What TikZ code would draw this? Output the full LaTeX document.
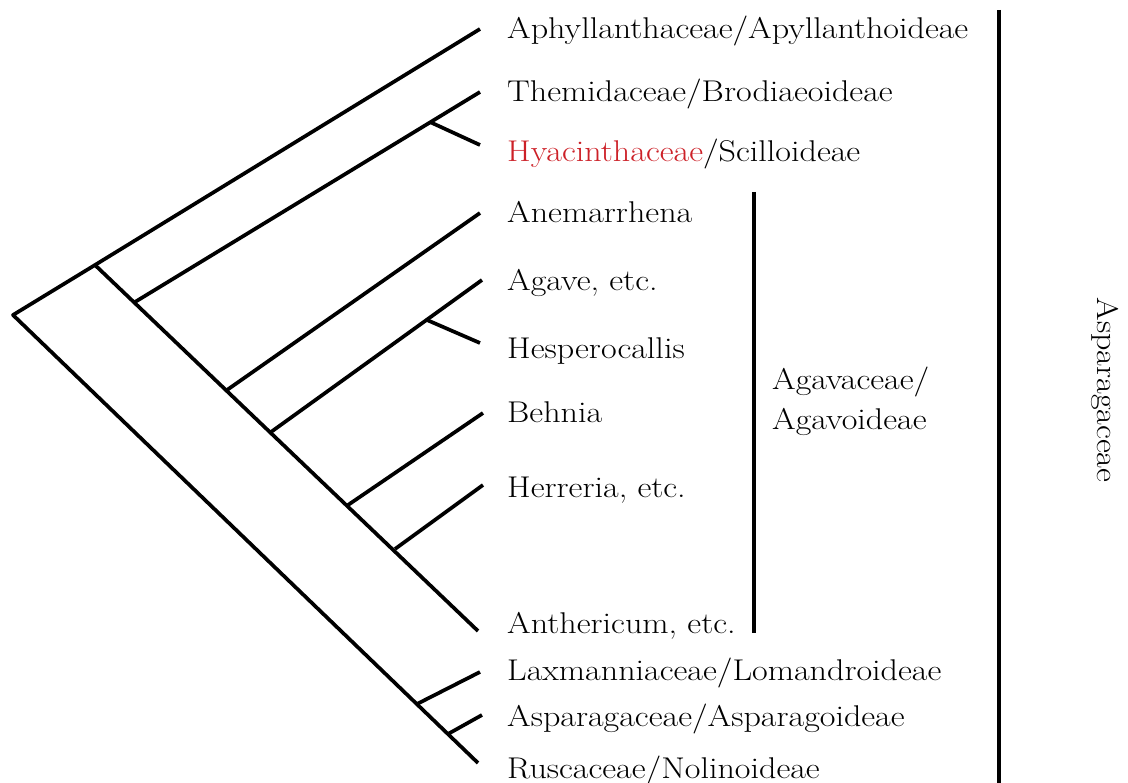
\documentclass[tikz,border=0pt]{standalone}
\usepackage{graphicx}
\definecolor{hyared}{RGB}{204,32,39}
\newcommand\wide[1]{\scalebox{1.135}[1]{#1}}
\begin{document}
\begin{tikzpicture}[x=1pt,y=-1pt,
  branch/.style={line width=3.7pt,line join=round},
  bar/.style={line width=3.8pt},
  taxon/.style={anchor=base west,inner sep=0pt,font=\fontsize{30}{34}\selectfont},
  group/.style={anchor=base west,inner sep=0pt,font=\fontsize{30}{34}\selectfont}]
\useasboundingbox (0,0) rectangle (1128,783);
% coordinates of tree
\coordinate (root) at (13,315);
\coordinate (nA) at (95,265);
\coordinate (tAph) at (480,29);
\coordinate (tRus) at (478,763);
\coordinate (nB) at (135,302);
\coordinate (tAnth) at (478,631);
\coordinate (tThem) at (480,92);
\coordinate (nTH) at (430,122);
\coordinate (tHya) at (480,145);
\coordinate (nC) at (227,390);
\coordinate (tAnem) at (480,213);
\coordinate (nD) at (271,432);
\coordinate (nAH) at (427,320);
\coordinate (tAga) at (482,280);
\coordinate (tHes) at (480,343);
\coordinate (nE) at (348,505);
\coordinate (tBeh) at (483,413);
\coordinate (nF) at (395,549);
\coordinate (tHer) at (483,485);
\coordinate (nL) at (417,704);
\coordinate (tLax) at (480,672);
\coordinate (nAs) at (448,734);
\coordinate (tAsp) at (482,715);
% branches
\draw[branch] (tAph) -- (nA) -- (root) -- (tRus);
\draw[branch] (nA) -- (tAnth);
\draw[branch] (nB) -- (tThem);
\draw[branch] (nTH) -- (tHya);
\draw[branch] (nC) -- (tAnem);
\draw[branch] (nD) -- (tAga);
\draw[branch] (nAH) -- (tHes);
\draw[branch] (nE) -- (tBeh);
\draw[branch] (nF) -- (tHer);
\draw[branch] (nL) -- (tLax);
\draw[branch] (nAs) -- (tAsp);
% labels
\node[taxon] (lAph) at (507,39) {\wide{Aphyllanthaceae/Apyllanthoideae}};
\node[taxon] (lThem) at (507,102) {\wide{Themidaceae/Brodiaeoideae}};
\node[taxon] (lHya) at (507,162) {\wide{\textcolor{hyared}{Hyacinthaceae}/Scilloideae}};
\node[taxon] (lAnem) at (507,223) {\wide{Anemarrhena}};
\node[taxon] (lAga) at (507,291) {\wide{Agave, etc.}};
\node[taxon] (lHes) at (507,359) {\wide{Hesperocallis}};
\node[taxon] (lBeh) at (507,423) {\wide{Behnia}};
\node[taxon] (lHer) at (507,498) {\wide{Herreria, etc.}};
\node[taxon] (lAnth) at (507,633) {\wide{Anthericum, etc.}};
\node[taxon] (lLax) at (507,680) {\wide{Laxmanniaceae/Lomandroideae}};
\node[taxon] (lAsp) at (507,726) {\wide{Asparagaceae/Asparagoideae}};
\node[taxon] (lRus) at (507,778) {\wide{Ruscaceae/Nolinoideae}};
% group bars
\coordinate (agTop) at (754,192);
\coordinate (agBot) at (754,633);
\draw[bar] (agTop) -- (agBot);
\node[group] (lAgv1) at (772,390) {\wide{Agavaceae/}};
\node[group] (lAgv2) at (772,430) {\wide{Agavoideae}};
\coordinate (asTop) at (999,10);
\coordinate (asBot) at (999,783);
\draw[bar] (asTop) -- (asBot);
\node[font=\fontsize{30}{34}\selectfont,rotate=-90,inner sep=0pt] (lAsparag) at (1105,390) {\wide{Asparagaceae}};
\end{tikzpicture}
\end{document}
